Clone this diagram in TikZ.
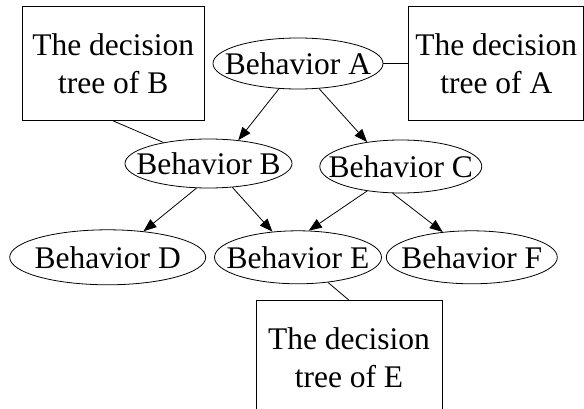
\documentclass[tikz,border=0pt]{standalone}
\usepackage{fontspec}
\setmainfont{Liberation Serif}
\usetikzlibrary{shapes.geometric, positioning, arrows.meta}

\newcommand{\behname}[1]{\makebox[0pt]{Behavior #1}}

\begin{document}
\begin{tikzpicture}[x=1pt, y=-1pt, line width=0.8pt,
	>={Triangle[length=13pt, width=10pt]},
	every node/.style={font=\fontsize{31.5}{38}\selectfont},
	behavior/.style={draw, ellipse, inner sep=0pt},
	tree/.style={draw, rectangle, align=center, minimum height=114pt}]
	\useasboundingbox (0,0) rectangle (584,409);
	\clip (0,0) rectangle (584,409);

	\node[behavior, minimum width=170pt, minimum height=51pt] (bA) at (298,63.5) {\behname{A}};
	\node[behavior, minimum width=167pt, minimum height=49pt] (bB) at (208.5,163.5) {\behname{B}};
	\node[behavior, minimum width=162pt, minimum height=53pt, right=27pt of bB, yshift=-3pt] (bC) {\behname{C}};
	\node[behavior, minimum width=167pt, minimum height=53pt, below=141pt of bA] (bE) {\behname{E}};
	\node[behavior, minimum width=196pt, minimum height=55pt, left=8pt of bE] (bD) {\behname{D}};
	\node[behavior, minimum width=171pt, minimum height=53pt, right=4pt of bE] (bF) {\behname{F}};

	\node[tree, minimum width=182pt, left=8pt of bA] (tB) {The decision\\tree of B};
	\node[tree, minimum width=175pt, right=25pt of bA] (tA) {The decision\\tree of A};
	\node[tree, minimum width=186pt, below=16pt of bE, xshift=51pt] (tE) {The decision\\tree of E};

	\draw[->] (bA.233) -- (bB.38);
	\draw[->] (bA.310) -- (bC.144);
	\draw[->] (bB.244) -- (bD.36);
	\draw[->] (bB.315) -- (bE.135);
	\draw[->] (bC.216) -- (bE.68);
	\draw[->] (bC.253) -- (bF.139);

	\draw (bA) -- (tA);
	\draw (tB.south) -- (bB.155);
	\draw (bE.320) -- (tE.north);
\end{tikzpicture}
\end{document}
